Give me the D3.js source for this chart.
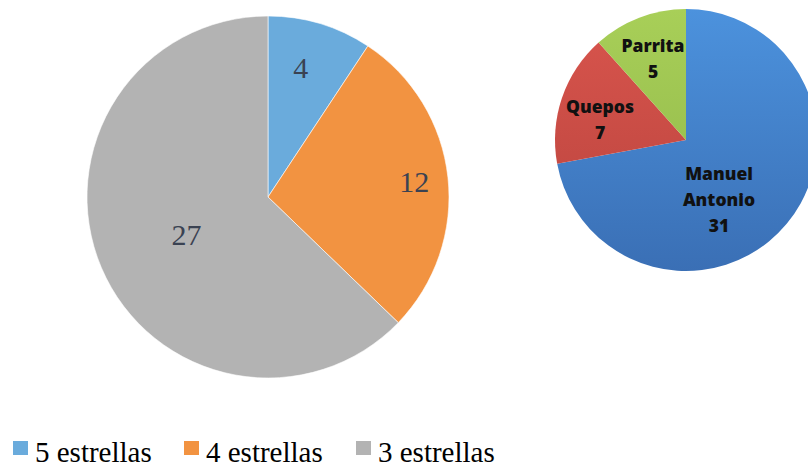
<!DOCTYPE html>
<html><head><meta charset="utf-8">
<script src="https://cdn.jsdelivr.net/npm/d3@7"></script>
<style>body{margin:0;background:#fff;}svg{display:block;}</style>
</head><body>
<svg id="c" width="808" height="468"></svg>
<script>
const starCats = ["5 estrellas", "4 estrellas", "3 estrellas"];
const starVals = [4, 12, 27];
const starColors = ["#6aabdc", "#f29341", "#b3b3b3"];

const zoneCats = ["Manuel Antonio", "Quepos", "Parrita"];
const zoneVals = [31, 7, 5];
const zoneColorsTop = ["#4c92dd", "#d9554d", "#a8cf58"];
const zoneColorsBot = ["#3a6fb5", "#b8433d", "#8fb548"];

const svg = d3.select("#c");
const defs = svg.append("defs");

// Left pie
const pie = d3.pie().sort(null).value(d => d);
const g1 = svg.append("g").attr("transform", "translate(268,197)");
const arc1 = d3.arc().innerRadius(0).outerRadius(181);
const arcs1 = pie(starVals);
g1.selectAll("path").data(arcs1).join("path")
  .attr("d", arc1).attr("fill", (d,i) => starColors[i])
  .attr("stroke", "#fff").attr("stroke-width", 0.6);
const lblRadius = [133, 147, 90];
const lblAngOff = [-2.5, 0.3, -2];
g1.selectAll("text").data(arcs1).join("text")
  .attr("transform", (d,i) => {
    const a = (d.startAngle + d.endAngle) / 2 + lblAngOff[i] * Math.PI / 180;
    const r = lblRadius[i];
    return `translate(${Math.sin(a)*r},${-Math.cos(a)*r})`;
  })
  .attr("text-anchor", "middle").attr("dy", "0.34em")
  .attr("font-family", "Liberation Serif, Times New Roman, serif")
  .attr("font-size", 30).attr("fill", "#3a4252")
  .text(d => d.data);

// Right pie
const g2 = svg.append("g").attr("transform", "translate(686,140)");
const R2 = 131;
zoneCats.forEach((c,i) => {
  const gr = defs.append("linearGradient").attr("id", "zg"+i)
    .attr("gradientUnits", "userSpaceOnUse")
    .attr("x1", 0).attr("y1", -R2).attr("x2", 0).attr("y2", R2);
  gr.append("stop").attr("offset", "0%").attr("stop-color", zoneColorsTop[i]);
  gr.append("stop").attr("offset", "100%").attr("stop-color", zoneColorsBot[i]);
});
const arc2 = d3.arc().innerRadius(0).outerRadius(R2);
const arcs2 = pie(zoneVals);
g2.selectAll("path").data(arcs2).join("path")
  .attr("d", arc2).attr("fill", (d,i) => `url(#zg${i})`);
const lblPos2 = [[33, 40], [-86, -27], [-33, -88]];
const lines2 = [["Manuel", "Antonio"], ["Quepos"], ["Parrita"]];
arcs2.forEach((d,i) => {
  const t = g2.append("text")
    .attr("text-anchor", "middle")
    .attr("font-family", "Open Sans, Liberation Sans, sans-serif")
    .attr("font-weight", 800).attr("font-size", 17.5).attr("fill", "#111");
  const ls = lines2[i].concat([String(d.data)]);
  ls.forEach((s,k) => {
    t.append("tspan").attr("x", lblPos2[i][0]).attr("y", lblPos2[i][1] + k*26).text(s);
  });
});

// Legend
const legX = [13, 184, 356];
const leg = svg.append("g");
starCats.forEach((c,i) => {
  leg.append("rect").attr("x", legX[i]).attr("y", 441).attr("width", 15).attr("height", 14).attr("fill", starColors[i]);
  leg.append("text").attr("x", legX[i] + 22).attr("y", 462)
    .attr("font-family", "Liberation Serif, Times New Roman, serif")
    .attr("font-size", 29).attr("fill", "#000").text(c);
});
</script>
</body></html>
